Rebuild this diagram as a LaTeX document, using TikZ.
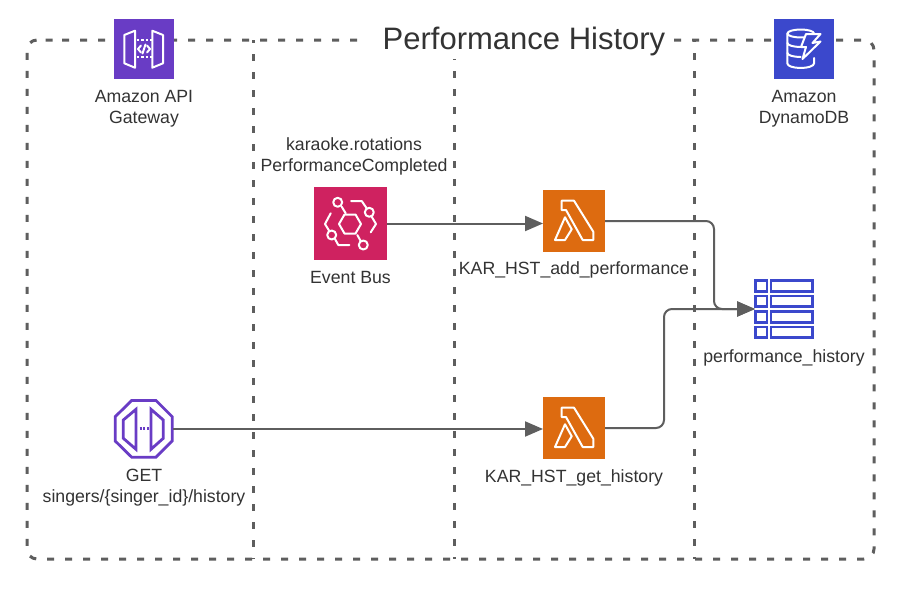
\documentclass[tikz,border=0pt]{standalone}
\usepackage{fontspec}
\setmainfont{Liberation Sans}
\usetikzlibrary{arrows.meta}
\definecolor{txt}{HTML}{333333}
\definecolor{conn}{HTML}{5E5E5E}
\definecolor{purple}{HTML}{693CC5}
\definecolor{dynblue}{HTML}{3B48CC}
\definecolor{busred}{HTML}{CF2260}
\definecolor{lamorange}{HTML}{DD6B10}
\tikzset{
  x=1pt,y=-1pt,
  frameline/.style={draw=conn,line width=3pt,dash pattern=on 7pt off 11pt},
  iconbox/.style={inner sep=0pt,outer sep=0pt,minimum size=#1,draw=none},
  lbl/.style={text=txt,font=\fontsize{17.7}{21}\selectfont,align=center,inner sep=0pt},
  conntor/.style={draw=conn,line width=2pt,rounded corners=8pt,-{Triangle[length=18pt,width=15pt]}},
  glyph/.style={draw=white,line width=2pt,line join=round,line cap=round},
  glyphthin/.style={draw=white,line width=2pt,dash pattern=on 2.5pt off 2pt},
  tablecell/.style={draw=dynblue,line width=2.8pt},
  ep/.style={draw=purple,line width=2.8pt,line join=miter}
}
\newcommand{\lambdaglyph}[1]{%
  \begin{scope}[shift={(#1.north west)}]
    \draw[glyph] (18.7,10.7) -- (31,10.7) -- (50.3,41.7) -- (50.3,50) -- (39.7,50) -- (23,20) -- (18.7,20) -- cycle;
    \draw[glyph] (22,27.3) -- (28.7,39.3) -- (22,50) -- (12,50) -- cycle;
  \end{scope}}
\begin{document}
\begin{tikzpicture}
\useasboundingbox[fill=white] (0,0) rectangle (898,589);

% frame and lane lines
\node[inner sep=0pt,outer sep=0pt,minimum width=847pt,minimum height=519pt,anchor=north west] (frame) at (27,40) {};
\coordinate (frameStart) at (46,40);
\draw[frameline,rounded corners=10pt,dash phase=12pt] (frameStart) -- (frame.north east) -- (frame.south east) -- (frame.south west) -- (frame.north west) -- cycle;
\coordinate (laneAtop) at (253.5,40);
\coordinate (laneAbot) at (253.5,559);
\coordinate (laneBtop) at (454.5,59);
\coordinate (laneBbot) at (454.5,559);
\coordinate (laneCtop) at (694.5,40);
\coordinate (laneCbot) at (694.5,559);
\draw[frameline,dash phase=4pt] (laneAtop) -- (laneAbot);
\draw[frameline,dash phase=6pt] (laneBtop) -- (laneBbot);
\draw[frameline,dash phase=5pt] (laneCtop) -- (laneCbot);

% title
\node[fill=white,inner sep=0pt,minimum width=307pt,minimum height=40pt] (titlebg) at (520.5,38) {};
\node[text=txt,font=\fontsize{31}{37}\selectfont,inner sep=0pt] (title) at (524,41) {Performance History};

% icons
\node[iconbox=60pt,fill=purple,anchor=north west] (api) at (114,19) {};
\node[iconbox=60pt,fill=dynblue,anchor=north west] (dyn) at (774,19) {};
\node[iconbox=73pt,fill=busred,anchor=north west] (bus) at (314,187) {};
\node[iconbox=62pt,fill=lamorange,anchor=north west] (lam1) at (543,190) {};
\node[iconbox=62pt,fill=lamorange,anchor=north west] (lam2) at (543,397) {};
\node[iconbox=59pt,anchor=north west] (tbl) at (755,279.5) {};
\node[iconbox=59pt,anchor=north west] (endp) at (114,399.5) {};

% API Gateway glyph
\draw[glyph] (124.3,35) -- (135,30.7) -- (135,67.7) -- (124.3,63.3) -- cycle;
\draw[glyph] (152.3,30.7) -- (163,35) -- (163,63.3) -- (152.3,67.7) -- cycle;
\draw[glyphthin] (136.5,40) -- (152,40);
\draw[glyphthin] (136.5,57.3) -- (152,57.3);
\draw[glyph] (141,45.5) -- (138,49) -- (141,52.5);
\draw[glyph] (147,45.5) -- (150,49) -- (147,52.5);
\draw[glyph] (145.5,44.5) -- (142.5,53.5);

% DynamoDB glyph
\begin{scope}[glyph]
  \draw (800.7,33.5) ellipse [x radius=13.3,y radius=4];
  \draw (787.4,33.5) -- (787.4,63.5) arc[start angle=180,end angle=0,x radius=13.3,y radius=4.5] -- (814,58);
  \draw (787.4,43) arc[start angle=180,end angle=90,x radius=13.3,y radius=4];
  \draw (787.4,53) arc[start angle=180,end angle=90,x radius=13.3,y radius=4];
  \draw[fill=dynblue] (806,34) -- (820.5,34) -- (812.5,43) -- (820.5,41.5) -- (802.5,59) -- (806,47) -- (801,47) -- cycle;
\end{scope}

% Event bus glyph
\begin{scope}[glyph]
  \draw (339,224) -- (344.5,214.5) -- (355.5,214.5) -- (361,224) -- (355.5,233.5) -- (344.5,233.5) -- cycle;
  \draw (337.7,202.3) circle[radius=4.5];
  \draw (369.3,212.3) circle[radius=4.5];
  \draw (331.7,235) circle[radius=4.5];
  \draw (363.3,245) circle[radius=4.5];
  \draw (341.7,206.7) -- (345.7,213.3);
  \draw (357.3,235) -- (360.7,241);
  \draw (351,201) -- (361.7,201) -- (366.7,208.3);
  \draw (371.7,216.7) -- (376,224) -- (370.7,232.3);
  \draw (330.7,213.3) -- (325,224) -- (329.3,231);
  \draw (335,239) -- (338.3,245) -- (349.3,245);
\end{scope}

% Lambda glyphs
\lambdaglyph{lam1}
\lambdaglyph{lam2}

% table glyph
\foreach \ya/\yb in {280.5/291.2,296/306.7,311.5/322.2,327/337.7}{
  \draw[tablecell] (755.5,\ya) rectangle (767,\yb);
  \draw[tablecell] (771,\ya) rectangle (812.7,\yb);
}

% endpoint glyph
\draw[ep] (131.7,400.5) -- (156,400.5) -- (172.2,416.7) -- (172.2,441) -- (156,457.2) -- (131.7,457.2) -- (115.2,441) -- (115.2,416.7) -- cycle;
\draw[ep] (136,409.3) -- (136,449.3) -- (123.3,438.3) -- (123.3,420) -- cycle;
\draw[ep] (151,409.3) -- (163.3,420) -- (163.3,438.3) -- (151,449.3) -- cycle;
\draw[draw=purple,line width=2.5pt,dash pattern=on 2.2pt off 1.5pt] (139.5,428.7) -- (149,428.7);

% labels
\node[lbl] (lapi) at (144,108.5) {Amazon API\\Gateway};
\node[lbl] (ldyn) at (804,108.5) {Amazon\\DynamoDB};
\node[lbl] (lsrc) at (354,156) {karaoke.rotations\\PerformanceCompleted};
\node[lbl] (lbus) at (350.5,277.5) {Event Bus};
\node[lbl] (llam1) at (574,269.5) {KAR\_HST\_add\_performance};
\node[lbl] (ltbl) at (784,357.5) {performance\_history};
\node[lbl] (llam2) at (574,477.5) {KAR\_HST\_get\_history};
\node[lbl] (lget) at (144,488) {GET\\singers/\{singer\_id\}/history};

% connectors
\draw[conntor] (bus.east) -- (bus.east -| lam1.west);
\draw[conntor] (endp.east) -- (endp.east -| lam2.west);
\coordinate (bendA) at (714,221);
\coordinate (bendB) at (664,428);
\draw[conntor] (lam1.east) -- (bendA) -- (bendA |- tbl.west) -- (tbl.west);
\draw[conntor] (lam2.east) -- (bendB) -- (bendB |- tbl.west) -- (tbl.west);
\end{tikzpicture}
\end{document}
